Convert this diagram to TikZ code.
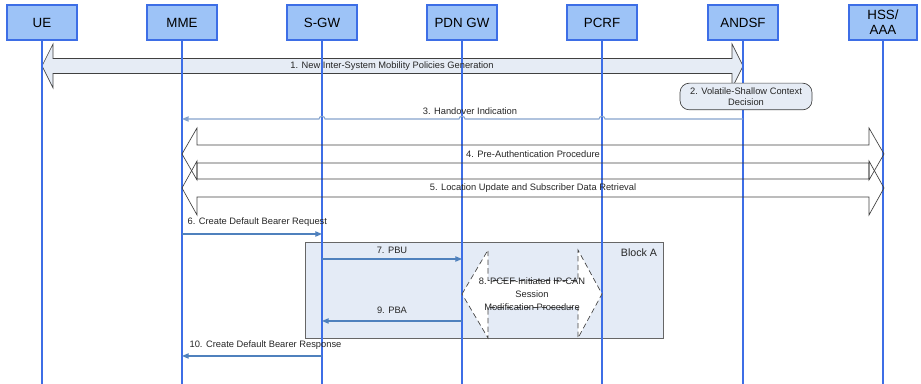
\documentclass[tikz,border=0pt]{standalone}
\usepackage{fontspec}
\setmainfont{Liberation Sans}
\usetikzlibrary{arrows.meta}
\pgfdeclarelayer{background}
\pgfsetlayers{background,main}
\definecolor{lifeblue}{HTML}{3D6EE6}
\definecolor{hdrfill}{HTML}{9DC3F7}
\definecolor{msgblue}{HTML}{4F81BD}
\definecolor{hopblue}{HTML}{86A3CC}
\definecolor{blkfill}{HTML}{E6ECF5}
\definecolor{blkline}{HTML}{404040}
\definecolor{areafill}{HTML}{E4EBF6}
\tikzset{
  hdr/.style={draw=lifeblue, line width=1.5pt, fill=hdrfill, minimum width=53pt,
    minimum height=26pt, inner sep=0pt, align=center,
    font=\fontsize{10}{11}\selectfont},
  life/.style={draw=lifeblue, line width=1.6pt},
  msg/.style={draw=msgblue, line width=0.8pt, -{Triangle[length=5pt,width=4pt]}},
  blk/.style={draw=blkline, line width=0.5pt, line join=miter},
  lbl/.style={font=\fontsize{7}{8.5}\selectfont, inner sep=1pt, text=black!85},
}

\begin{document}
\begin{tikzpicture}[x=0.75pt, y=-0.75pt]
  \useasboundingbox (0,0) rectangle (921,384);
  % header boxes
  \node[hdr] (ue) at (42,22.5) {UE};
  \node[hdr] (mme) at (182,22.5) {MME};
  \node[hdr] (sgw) at (322,22.5) {S-GW};
  \node[hdr] (pdngw) at (462,22.5) {PDN GW};
  \node[hdr] (pcrf) at (602,22.5) {PCRF};
  \node[hdr] (andsf) at (743,22.5) {ANDSF};
  \node[hdr, minimum width=51pt] (hss) at (883,22.5) {HSS/\\AAA};
  % filled areas below the lifelines
  \begin{pgfonlayer}{background}
    \draw[blk, fill=areafill, draw=black!60, line width=0.6pt] (305,242) rectangle (663,338);
    \draw[blk, fill=blkfill] (42,66) -- (53,44) -- (53,58.5) -- (732,58.5) -- (732,44)
      -- (743,66) -- (732,88) -- (732,73.5) -- (53,73.5) -- (53,88) -- cycle;
  \end{pgfonlayer}
  \node[lbl] (blocka) at (639,253) {\fontsize{8}{9}\selectfont Block A};
  % lifelines
  \foreach \n in {ue,mme,sgw,pdngw,pcrf,andsf,hss}
    \draw[life] (\n.south) -- (\n |- 0,384);
  % 1
  \node[lbl] (l1) at (392,66) {1. New Inter-System Mobility Policies Generation};
  % 2
  \node[draw=blkline, line width=0.5pt, fill=blkfill, rounded corners=7pt,
    minimum width=99pt, minimum height=20pt, inner sep=1pt, align=center,
    font=\fontsize{7}{8.5}\selectfont, text=black!85] (l2) at (746,96.5)
    {2. Volatile-Shallow Context\\Decision};
  % 3
  \draw[msg, draw=hopblue] (andsf |- 0,119) -- (605,119)
    .. controls (605,115.5) and (599,115.5) .. (599,119) -- (465,119)
    .. controls (465,115.5) and (459,115.5) .. (459,119) -- (325,119)
    .. controls (325,115.5) and (319,115.5) .. (319,119) -- (mme |- 0,119);
  \node[lbl] (l3) at (470,111) {3. Handover Indication};
  % 4 and 5
  \draw[blk] (182,154) -- (197,128) -- (197,145) -- (869,145) -- (869,128)
    -- (884,154) -- (869,180) -- (869,163) -- (197,163) -- (197,180) -- cycle;
  \node[lbl] (l4) at (533,154) {4. Pre-Authentication Procedure};
  \draw[blk] (182,188) -- (197,161) -- (197,179) -- (869,179) -- (869,161)
    -- (884,188) -- (869,215) -- (869,197) -- (197,197) -- (197,215) -- cycle;
  \node[lbl] (l5) at (533,188) {5. Location Update and Subscriber Data Retrieval};
  % 6
  \draw[msg] (mme |- 0,234) -- (sgw |- 0,234);
  \node[lbl, anchor=west] (l6) at (186,222) {6. Create Default Bearer Request};
  % 7
  \draw[msg] (sgw |- 0,259) -- (pdngw |- 0,259);
  \node[lbl] (l7) at (392,250) {7. PBU};
  % 8
  \draw[blk, dash pattern=on 4pt off 2.5pt, fill=white] (462,294) -- (488,250) -- (488,280.5)
    -- (578,280.5) -- (578,250) -- (602,294) -- (578,338) -- (578,307.5) -- (488,307.5)
    -- (488,338) -- cycle;
  \node[lbl, align=center, font=\fontsize{7}{10}\selectfont] (l8) at (532,294)
    {8. PCEF-Initiated IP-CAN\\Session\\Modification Procedure};
  % 9
  \draw[msg] (pdngw |- 0,321) -- (sgw |- 0,321);
  \node[lbl] (l9) at (392,310) {9. PBA};
  % 10
  \draw[msg] (sgw |- 0,356) -- (mme |- 0,356);
  \node[lbl, anchor=west] (l10) at (188,345) {10. Create Default Bearer Response};
\end{tikzpicture}
\end{document}
